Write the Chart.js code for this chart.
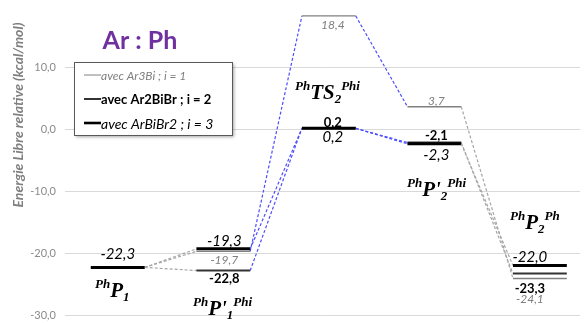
<!DOCTYPE html>
<html>
<head>
<meta charset="utf-8">
<script src="https://cdn.jsdelivr.net/npm/chart.js@4/dist/chart.umd.min.js"></script>
<style>
    html, body { margin: 0; padding: 0; background: #fff; }
    #wrap { width: 584px; height: 323px; }
</style>
</head>
<body>
<div id="wrap"><canvas id="energyCanvas" width="584" height="323"></canvas></div>
<script>
    /************** Data ********************************/
    var states = ["PhP1", "PhP'1Phi", "PhTS2Phi", "PhP'2Phi", "PhP2Ph"];
    var seriesNames = ["avec Ar3Bi ; i = 1", "avec Ar2BiBr ; i = 2", "avec ArBiBr2 ; i = 3"];
    var energyI1 = [-22.3, -19.7, 18.4, 3.7, -24.1];
    var energyI2 = [-22.3, -22.8, 0.2, -2.1, -23.3];
    var energyI3 = [-22.3, -19.3, 0.2, -2.3, -22.0];
    var yTicks = [-30, -20, -10, 0, 10, 20];
    var yTitle = "Energie Libre relative (kcal/mol)";
    var chartTitle = "Ar : Ph";

    /************** Styling ********************************/
    var FONT = "Lato, 'Open Sans', sans-serif";
    var SERIF = "'Liberation Serif', 'DejaVu Serif', serif";
    var halfWidth = 0.255;
    var connectorColors = ["#a6a6a6", "#4d4dff", "#4d4dff", "#a6a6a6"];

    var seriesStyle = [
        {color: "#808080", width: 1.4, font: "italic 12px " + FONT, labelColor: "#7f7f7f"},
        {color: "#333333", width: 2, font: "bold 13px " + FONT, labelColor: "#000"},
        {color: "#000000", width: 3, font: "italic 15px " + FONT, labelColor: "#000"}
    ];
    // label offset (px) from the level, null = no label
    var labelDy = [
        [null, 9, 9, -6, 21],
        [null, 8, -6, -7, 15],
        [-13, -8, 9, 11, -8]
    ];
    var labelDx = [0, 1, 4, 2, -10];

    // state names: left x, baseline y
    var stateLabelPos = [[95, 297], [193, 315], [295, 99], [407, 196], [510, 229]];
    var stateLabelParts = [
        [["Ph", "sup"], ["P", "main"], ["1", "sub"]],
        [["Ph", "sup"], ["P'", "main"], ["1", "sub"], ["Phi", "sup"]],
        [["Ph", "sup"], ["TS", "main"], ["2", "sub"], ["Phi", "sup"]],
        [["Ph", "sup"], ["P'", "main"], ["2", "sub"], ["Phi", "sup"]],
        [["Ph", "sup"], ["P", "main"], ["2", "sub"], ["Ph", "sup"]]
    ];

    var fmt = function (v) {
        return v.toFixed(1).replace(".", ",");
    };

    var levelPoints = function (values) {
        var pts = [];
        for (var i = 0; i < values.length; i++) {
            pts.push({x: i - halfWidth, y: values[i]});
            pts.push({x: i + halfWidth, y: values[i]});
        }
        return pts;
    };

    var buildDataset = function (name, values, k) {
        var st = seriesStyle[k];
        return {
            label: name,
            data: levelPoints(values),
            borderColor: st.color,
            borderWidth: st.width,
            pointRadius: 0,
            tension: 0,
            order: 2 - k,
            segment: {
                borderColor: function (ctx) {
                    return ctx.p0DataIndex % 2 ? connectorColors[(ctx.p0DataIndex - 1) / 2] : undefined;
                },
                borderDash: function (ctx) {
                    return ctx.p0DataIndex % 2 ? [3, 2] : undefined;
                },
                borderWidth: function (ctx) {
                    return ctx.p0DataIndex % 2 ? 1.2 : undefined;
                }
            }
        };
    };

    var allSeries = [energyI1, energyI2, energyI3];

    /************** Decorations ********************************/
    var drawRich = function (ctx, x, y, parts) {
        var sizes = {main: 21, sup: 13, sub: 13};
        var dys = {main: 0, sup: -9, sub: 4};
        ctx.fillStyle = "#000";
        ctx.textBaseline = "alphabetic";
        ctx.textAlign = "left";
        parts.forEach(function (p) {
            ctx.font = "italic bold " + sizes[p[1]] + "px " + SERIF;
            ctx.fillText(p[0], x, y + dys[p[1]]);
            x += ctx.measureText(p[0]).width;
        });
    };

    var decorPlugin = {
        id: "decor",
        afterDatasetsDraw: function (chart) {
            var ctx = chart.ctx;
            var xs = chart.scales.x, ys = chart.scales.y;
            ctx.save();

            // value labels
            allSeries.forEach(function (values, k) {
                var st = seriesStyle[k];
                ctx.font = st.font;
                ctx.fillStyle = st.labelColor;
                ctx.textAlign = "center";
                ctx.textBaseline = "middle";
                values.forEach(function (v, i) {
                    if (labelDy[k][i] === null) return;
                    ctx.fillText(fmt(v), xs.getPixelForValue(i) + labelDx[i], ys.getPixelForValue(v) + labelDy[k][i]);
                });
            });

            // state names
            stateLabelParts.forEach(function (parts, i) {
                drawRich(ctx, stateLabelPos[i][0], stateLabelPos[i][1], parts);
            });

            // title
            ctx.font = "bold 25px " + FONT;
            ctx.fillStyle = "#7030a0";
            ctx.textAlign = "center";
            ctx.textBaseline = "alphabetic";
            ctx.fillText(chartTitle, 140, 49);

            // y title
            ctx.save();
            ctx.translate(18, 115);
            ctx.rotate(-Math.PI / 2);
            ctx.font = "italic bold 14px " + FONT;
            ctx.fillStyle = "#7f7f7f";
            ctx.textBaseline = "middle";
            ctx.fillText(yTitle, 0, 0);
            ctx.restore();

            // legend box
            ctx.shadowColor = "rgba(0,0,0,0.35)";
            ctx.shadowOffsetX = 2;
            ctx.shadowOffsetY = 2;
            ctx.shadowBlur = 3;
            ctx.fillStyle = "#fff";
            ctx.fillRect(74, 62, 158, 73);
            ctx.shadowColor = "transparent";
            ctx.strokeStyle = "#595959";
            ctx.lineWidth = 1;
            ctx.strokeRect(74.5, 62.5, 158, 73);

            var legendFonts = ["italic 12px " + FONT, "bold 13px " + FONT, "italic 14px " + FONT];
            var legendColors = ["#7f7f7f", "#000", "#000"];
            var legendWidths = [1, 1.6, 2.6];
            var rowY = [75, 99, 123];
            seriesNames.forEach(function (name, k) {
                ctx.beginPath();
                ctx.strokeStyle = k === 0 ? "#808080" : "#000";
                ctx.lineWidth = legendWidths[k];
                ctx.moveTo(84, rowY[k]);
                ctx.lineTo(101, rowY[k]);
                ctx.stroke();
                ctx.font = legendFonts[k];
                ctx.fillStyle = legendColors[k];
                ctx.textAlign = "left";
                ctx.textBaseline = "middle";
                ctx.fillText(name, 101, rowY[k] + 1);
            });

            ctx.restore();
        }
    };

    /************** Chart ********************************/
    var ctx = document.getElementById("energyCanvas");
    var energyChart = new Chart(ctx, {
        type: "line",
        data: {
            datasets: [
                buildDataset(seriesNames[0], energyI1, 0),
                buildDataset(seriesNames[1], energyI2, 1),
                buildDataset(seriesNames[2], energyI3, 2)
            ]
        },
        options: {
            responsive: false,
            animation: false,
            layout: {padding: {top: 6, right: 4, bottom: 8, left: 0}},
            plugins: {legend: {display: false}, tooltip: {enabled: false}},
            scales: {
                x: {type: "linear", min: -0.5, max: 4.38, display: false},
                y: {
                    min: yTicks[0],
                    max: yTicks[yTicks.length - 1],
                    afterBuildTicks: function (scale) {
                        scale.ticks = yTicks.map(function (v) { return {value: v}; });
                    },
                    afterFit: function (scale) {
                        scale.width = 65;
                        scale.paddingTop = 0;
                        scale.paddingBottom = 0;
                    },
                    border: {display: false},
                    grid: {
                        drawTicks: false,
                        color: function (c) {
                            return c.tick && c.tick.value === 20 ? "transparent" : "#d9d9d9";
                        }
                    },
                    ticks: {
                        padding: 9,
                        color: "#8a8a8a",
                        font: {family: FONT, size: 11},
                        callback: function (v) {
                            return v === 20 ? "" : fmt(v);
                        }
                    }
                }
            }
        },
        plugins: [decorPlugin]
    });
</script>
</body>
</html>
